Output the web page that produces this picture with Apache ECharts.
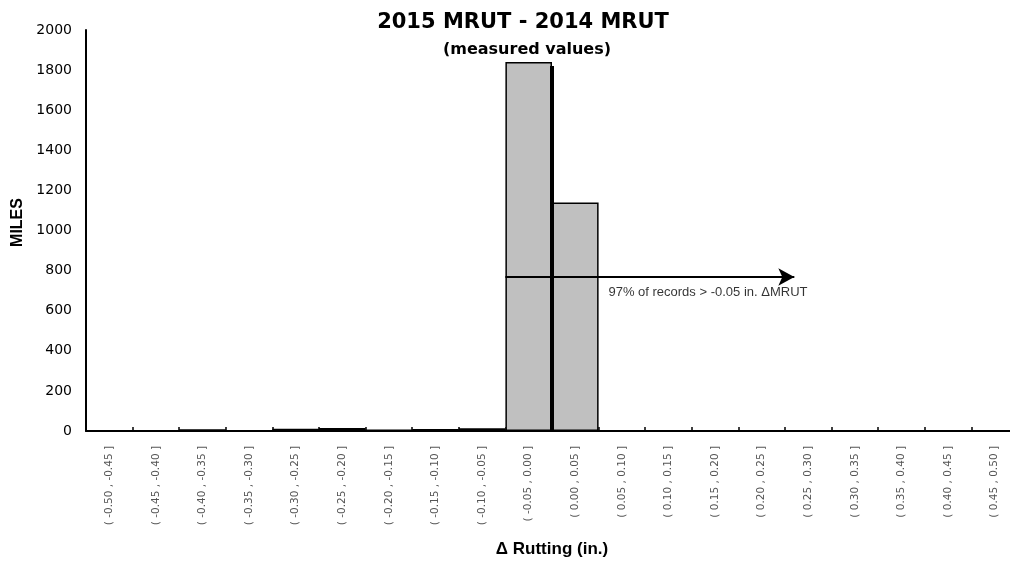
<!DOCTYPE html>
<html>
<head>
<meta charset="utf-8">
<script src="https://cdn.jsdelivr.net/npm/echarts@6/dist/echarts.min.js"></script>
<style>html,body{margin:0;padding:0;background:#fff}#c{width:1010px;height:565px}</style>
</head>
<body>
<div id="c"></div>
<script>
const categories = ['( -0.50 , -0.45 ]','( -0.45 , -0.40 ]','( -0.40 , -0.35 ]','( -0.35 , -0.30 ]','( -0.30 , -0.25 ]','( -0.25 , -0.20 ]','( -0.20 , -0.15 ]','( -0.15 , -0.10 ]','( -0.10 , -0.05 ]','( -0.05 , 0.00 ]','( 0.00 , 0.05 ]','( 0.05 , 0.10 ]','( 0.10 , 0.15 ]','( 0.15 , 0.20 ]','( 0.20 , 0.25 ]','( 0.25 , 0.30 ]','( 0.30 , 0.35 ]','( 0.35 , 0.40 ]','( 0.40 , 0.45 ]','( 0.45 , 0.50 ]'];
const miles = [0, 0, 9, 0, 11, 15, 8, 10, 14, 1840, 1140, 0, 0, 0, 0, 0, 0, 0, 0, 0];
const zeroLineTop = 1820;
const arrowLevel = 768;
const arrowStart = 9;      // bin index where the arrow starts (left edge of -0.05 bin)
const arrowEnd = 15.2;
const zeroAt = 10;         // bin boundary for 0.00
const noteText = '97% of records > -0.05 in. \u0394MRUT';
const noteAt = [11.2, 690];

const chart = echarts.init(document.getElementById('c'));
chart.setOption({
  backgroundColor: '#fff',
  animation: false,
  title: [{
    text: '2015 MRUT - 2014 MRUT',
    left: 518, top: 7, textAlign: 'center',
    textStyle: {fontFamily: 'DejaVu Sans', fontWeight: 'bold', fontSize: 21, color: '#000'}
  }, {
    text: '(measured values)',
    left: 522, top: 37, textAlign: 'center',
    textStyle: {fontFamily: 'DejaVu Sans', fontWeight: 'bold', fontSize: 16, color: '#000'}
  }],
  grid: {left: 86, width: 932, top: 30, bottom: 134, containLabel: false, outerBoundsMode: 'none'},
  xAxis: [{
    type: 'category',
    data: categories,
    boundaryGap: true,
    axisLine: {lineStyle: {color: '#000', width: 2}},
    axisTick: {show: true, inside: true, length: 4, lineStyle: {color: '#000', width: 1.5}},
    axisLabel: {rotate: 90, interval: 0, fontFamily: 'DejaVu Sans', fontSize: 10.5, color: '#555', margin: 15},
    name: '\u0394 Rutting (in.)',
    nameLocation: 'middle', nameGap: 110,
    nameTextStyle: {fontFamily: 'Liberation Sans', fontWeight: 'bold', fontSize: 17, color: '#000'}
  }, {
    type: 'value', min: 0, max: 20, show: false
  }],
  yAxis: {
    type: 'value', min: 0, max: 2000, interval: 200,
    splitLine: {show: false},
    axisLine: {show: true, lineStyle: {color: '#000', width: 2}},
    axisTick: {show: false},
    axisLabel: {fontFamily: 'DejaVu Sans', fontSize: 14, color: '#000', margin: 14, formatter: (v) => String(v)},
    name: 'MILES', nameLocation: 'middle', nameGap: 57, nameRotate: 90,
    nameTextStyle: {fontFamily: 'Liberation Sans', fontWeight: 'bold', fontSize: 16, color: '#000', padding: [0, 0, 0, 16]}
  },
  series: [{
    type: 'bar',
    data: miles,
    barCategoryGap: '0%',
    itemStyle: {color: '#c0c0c0', borderColor: '#000', borderWidth: 1.5},
    z: 2
  }, {
    type: 'line',
    xAxisIndex: 1,
    data: [],
    symbol: 'none',
    z: 5,
    markLine: {
      silent: true,
      animation: false,
      label: {show: false},
      data: [
        [{coord: [zeroAt, 0], symbol: 'none', lineStyle: {color: '#000', width: 4, type: 'solid'}},
         {coord: [zeroAt, zeroLineTop], symbol: 'none'}],
        [{coord: [arrowStart, arrowLevel], symbol: 'none', lineStyle: {color: '#000', width: 2, type: 'solid'}},
         {coord: [arrowEnd, arrowLevel], symbol: 'arrow', symbolSize: [13, 16]}]
      ]
    }
  }, {
    type: 'scatter',
    xAxisIndex: 1,
    data: [noteAt],
    symbolSize: 1,
    itemStyle: {color: 'rgba(0,0,0,0)'},
    silent: true,
    z: 6,
    label: {show: true, formatter: noteText, position: 'right', distance: 0,
      fontFamily: 'Liberation Sans', fontSize: 13, color: '#000'}
  }]
});
</script>
</body>
</html>
